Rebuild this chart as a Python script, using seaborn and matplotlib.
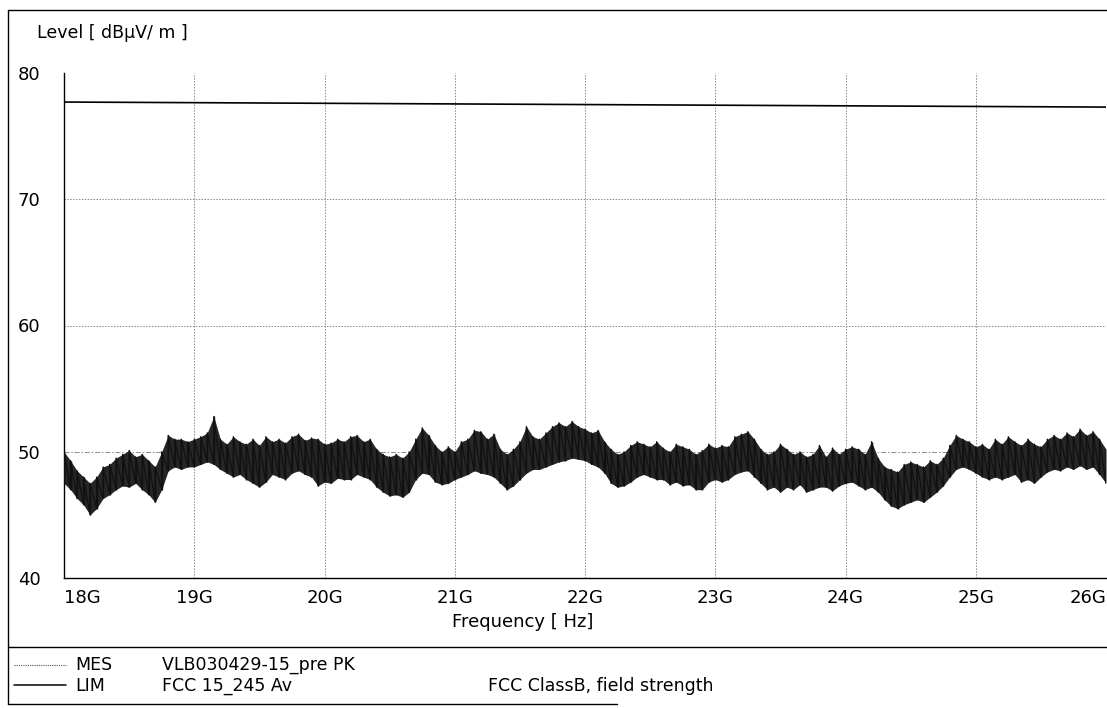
import numpy as np
import pandas as pd
import matplotlib
matplotlib.use("Agg")
import matplotlib.pyplot as plt
import seaborn as sns
from matplotlib.lines import Line2D

# ---------------- data ----------------
freq_ghz = [18.00 + 0.05 * i for i in range(161)]

mes_hi = [
    50.0, 49.3, 48.5, 48.0, 47.5, 48.0, 48.8, 49.0, 49.5, 49.8,
    50.1, 49.6, 49.8, 49.3, 48.8, 50.0, 51.3, 51.0, 51.0, 50.8,
    51.0, 51.2, 51.5, 52.8, 51.0, 50.6, 51.2, 50.8, 50.6, 51.0,
    50.5, 51.2, 50.8, 51.0, 50.7, 51.2, 51.4, 50.9, 51.1, 51.0,
    50.6, 50.7, 51.0, 50.8, 51.2, 51.3, 50.8, 51.0, 50.2, 49.8,
    49.6, 49.8, 49.5, 50.0, 51.0, 51.9, 51.3, 50.5, 50.0, 50.4,
    50.0, 50.8, 51.0, 51.7, 51.6, 51.0, 51.4, 50.2, 49.8, 50.2,
    50.8, 52.0, 51.2, 51.0, 51.5, 52.0, 52.3, 52.0, 52.4, 52.0,
    51.8, 51.5, 51.7, 50.8, 50.2, 49.8, 50.0, 50.5, 50.8, 50.6,
    50.4, 50.8, 50.3, 50.0, 50.6, 50.4, 50.2, 49.8, 50.1, 50.6,
    50.3, 50.5, 50.4, 51.2, 51.4, 51.6, 51.0, 50.2, 49.8, 50.0,
    50.6, 50.2, 49.8, 50.0, 49.6, 49.8, 50.5, 49.6, 50.3, 49.8,
    50.2, 50.4, 50.2, 49.8, 50.8, 49.5, 48.8, 48.6, 48.4, 49.0,
    49.2, 49.0, 48.8, 49.3, 49.0, 49.5, 50.5, 51.3, 51.0, 50.8,
    50.4, 50.6, 50.2, 51.0, 50.6, 51.2, 50.8, 50.5, 51.0, 50.6,
    50.4, 51.0, 51.3, 51.0, 51.5, 51.2, 51.8, 51.3, 51.6, 51.0,
    50.2,
]

mes_lo = [
    47.5, 47.0, 46.3, 45.8, 45.0, 45.5, 46.3, 46.6, 47.0, 47.3,
    47.2, 47.5, 47.0, 46.6, 46.0, 47.0, 48.5, 48.8, 48.6, 48.8,
    48.8, 49.0, 49.2, 49.0, 48.6, 48.3, 48.0, 48.2, 47.8, 47.5,
    47.2, 47.6, 48.2, 48.0, 47.8, 48.3, 48.5, 48.2, 48.0, 47.3,
    47.6, 47.5, 47.9, 47.8, 47.8, 48.2, 48.0, 47.8, 47.2, 46.8,
    46.5, 46.6, 46.4, 46.8, 47.8, 48.3, 48.2, 47.6, 47.4, 47.5,
    47.8, 48.0, 48.2, 48.5, 48.3, 48.2, 48.0, 47.5, 47.0, 47.3,
    47.8, 48.3, 48.6, 48.6, 48.8, 49.0, 49.2, 49.3, 49.5, 49.4,
    49.3, 49.0, 48.8, 48.3, 47.5, 47.2, 47.3, 47.6, 48.0, 48.2,
    48.0, 47.8, 47.8, 47.4, 47.6, 47.3, 47.4, 47.0, 47.0, 47.6,
    47.8, 47.6, 47.8, 48.2, 48.4, 48.5, 48.0, 47.5, 47.0, 47.2,
    46.8, 47.2, 47.0, 47.4, 46.8, 47.0, 47.2, 47.2, 46.9, 47.3,
    47.5, 47.6, 47.3, 47.0, 47.2, 46.8, 46.2, 45.7, 45.5, 45.8,
    46.0, 46.2, 46.0, 46.4, 46.8, 47.3, 48.0, 48.6, 48.8, 48.6,
    48.3, 48.0, 47.8, 48.0, 47.8, 48.0, 48.2, 47.6, 47.8, 47.5,
    48.0, 48.4, 48.6, 48.5, 48.8, 48.6, 48.9, 48.6, 48.8, 48.2,
    47.5,
]

lim_freq_ghz = [18.0, 26.0]
lim_level = [77.7, 77.3]

x_ticks = [18, 19, 20, 21, 22, 23, 24, 25, 26]
x_tick_labels = ["18G", "19G", "20G", "21G", "22G", "23G", "24G", "25G", "26G"]
y_ticks = [40, 50, 60, 70, 80]
y_tick_labels = ["40", "50", "60", "70", "80"]

# ---------------- build tables ----------------
zig_x, zig_y = [], []
for f, lo, hi in zip(freq_ghz, mes_lo, mes_hi):
    zig_x += [f, f]
    zig_y += [lo, hi]
mes_df = pd.DataFrame({"freq": zig_x, "level": zig_y})
band_df = pd.DataFrame({"freq": freq_ghz, "lo": mes_lo, "hi": mes_hi})
lim_df = pd.DataFrame({"freq": lim_freq_ghz, "level": lim_level})

# ---------------- style ----------------
sns.set_theme(style="white")
plt.rcParams["font.family"] = ["DejaVu Sans"]
plt.rcParams["text.color"] = "black"
plt.rcParams["xtick.color"] = "black"
plt.rcParams["ytick.color"] = "black"

W, H = 1107, 708
fig = plt.figure(figsize=(W / 100, H / 100), dpi=100)
fig.patch.set_facecolor("white")

ax_l, ax_r, ax_b, ax_t = 64, 1106, 578, 73
ax = fig.add_axes([ax_l / W, 1 - ax_b / H, (ax_r - ax_l) / W, (ax_b - ax_t) / H])
ax.set_facecolor("white")

# measurement trace: dense band with jagged outline
ax.fill_between(band_df["freq"], band_df["lo"], band_df["hi"],
                color="#262626", linewidth=0, zorder=2)
sns.lineplot(data=mes_df, x="freq", y="level", sort=False, estimator=None,
             color="#111111", linewidth=0.9, ax=ax, zorder=3)
ax.vlines(band_df["freq"], band_df["lo"], band_df["hi"], color="#111111",
          linewidth=1.0, zorder=3)
sns.lineplot(data=lim_df, x="freq", y="level", sort=False, estimator=None,
             color="black", linewidth=1.2, ax=ax, zorder=4)

ax.set_xlim(18, 26)
ax.set_ylim(40, 80)
ax.set_xlabel("")
ax.set_ylabel("")

# grid lines
grid_kw = dict(color="#8a8a8a", linewidth=0.7, zorder=1)
for v in [19, 20, 21, 22, 23, 24, 25]:
    ax.axvline(v, linestyle=(0, (1.5, 1.5)), **grid_kw)
for v in [60, 70]:
    ax.axhline(v, linestyle=(0, (1.5, 1.5)), **grid_kw)
ax.axhline(50, linestyle=(0, (5, 2, 1.5, 2)), **grid_kw)

for s in ["top", "right"]:
    ax.spines[s].set_visible(False)
for s in ["left", "bottom"]:
    ax.spines[s].set_color("black")
    ax.spines[s].set_linewidth(1.0)

ax.set_xticks(x_ticks)
ax.set_xticklabels(x_tick_labels, fontsize=13)
ax.set_yticks(y_ticks)
ax.set_yticklabels(y_tick_labels, fontsize=13)
ax.tick_params(axis="x", length=0, pad=8)
ax.tick_params(axis="y", length=0, pad=17)
xl = ax.get_xticklabels()
xl[0].set_horizontalalignment("left")
xl[-1].set_horizontalalignment("right")

# texts
def fx(px):
    return px / W

def fy(py):
    return 1 - py / H

fig.text(fx(37), fy(33), "Level [ dBµV/ m ]", fontsize=12.5, ha="left", va="center")
fig.text(fx(523), fy(622), "Frequency [ Hz]", fontsize=13, ha="center", va="center")

# frame lines
frame_kw = dict(color="black", linewidth=1.0, transform=fig.transFigure)
fig.add_artist(Line2D([fx(8), fx(8)], [fy(10), fy(704)], **frame_kw))
fig.add_artist(Line2D([fx(8), 1.0], [fy(10), fy(10)], **frame_kw))
fig.add_artist(Line2D([fx(8), 1.0], [fy(647), fy(647)], **frame_kw))
fig.add_artist(Line2D([fx(8), fx(617)], [fy(704), fy(704)], **frame_kw))

# legend block
fig.add_artist(Line2D([fx(14), fx(66)], [fy(665), fy(665)], color="#555555",
                      linewidth=0.8, linestyle=(0, (1, 1)), transform=fig.transFigure))
fig.add_artist(Line2D([fx(14), fx(66)], [fy(685), fy(685)], color="black",
                      linewidth=1.1, transform=fig.transFigure))
leg_kw = dict(fontsize=12.5, ha="left", va="center")
fig.text(fx(75), fy(665), "MES", **leg_kw)
fig.text(fx(162), fy(665), "VLB030429-15_pre PK", **leg_kw)
fig.text(fx(75), fy(686), "LIM", **leg_kw)
fig.text(fx(162), fy(686), "FCC 15_245 Av", **leg_kw)
fig.text(fx(488), fy(686), "FCC ClassB, field strength", **leg_kw)

fig.savefig("out.png", dpi=100, facecolor="white")
